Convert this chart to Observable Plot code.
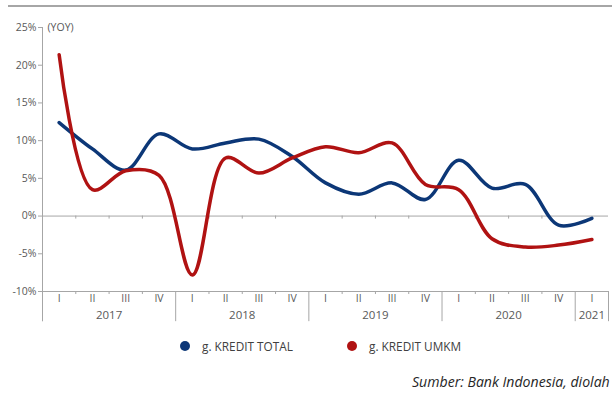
<!DOCTYPE html>
<html>
<head>
<meta charset="utf-8">
<script src="https://cdn.jsdelivr.net/npm/d3@7"></script>
<script src="https://cdn.jsdelivr.net/npm/@observablehq/plot@0.6"></script>
<style>
  html, body { margin: 0; padding: 0; background: #fff; }
  body { width: 612px; height: 394px; position: relative; overflow: hidden; font-family: "Open Sans", sans-serif; }
  #rule { position: absolute; left: 8px; top: 5px; width: 604px; height: 2px; background: #a6a6a6; }
  #chart { position: absolute; left: 0; top: 0; }
  #legend { position: absolute; top: 337px; left: 0; width: 612px; height: 18px; font-size: 11.8px; color: #404040; }
  .item { position: absolute; top: 0; display: flex; align-items: center; height: 18px; }
  .dot { width: 10px; height: 10px; border-radius: 50%; margin-right: 12px; }
  #caption { position: absolute; top: 372px; left: 412px; font-size: 14.1px; font-style: italic; color: #262626; white-space: nowrap; }
</style>
</head>
<body>
<div id="rule"></div>
<div id="chart"></div>
<div id="legend">
  <div class="item" style="left:180px"><span class="dot" style="background:#0c3777"></span><span>g. KREDIT TOTAL</span></div>
  <div class="item" style="left:347px"><span class="dot" style="background:#b01212"></span><span>g. KREDIT UMKM</span></div>
</div>
<div id="caption">Sumber: Bank Indonesia, diolah</div>
<script>
const quarters = ["I","II","III","IV","I","II","III","IV","I","II","III","IV","I","II","III","IV","I"];
const years = [2017,2017,2017,2017,2018,2018,2018,2018,2019,2019,2019,2019,2020,2020,2020,2020,2021];
const kreditTotal = [12.4, 8.9, 6.1, 10.9, 8.9, 9.7, 10.2, 7.9, 4.4, 2.9, 4.4, 2.2, 7.4, 3.7, 4.2, -1.2, -0.3];
const kreditUMKM = [21.4, 3.5, 6.0, 5.4, -7.8, 7.7, 5.7, 7.7, 9.2, 8.4, 9.7, 4.2, 3.5, -3.0, -4.1, -3.85, -3.1];
const yTicks = [-10, -5, 0, 5, 10, 15, 20, 25];

const COL_TOTAL = "#0c3777";
const COL_UMKM = "#b01212";
const GRID = "#a6a6a6";
const TXT = "#595959";

const n = quarters.length;
const rows = kreditTotal.map((v, i) => ({i, v}));
const rowsU = kreditUMKM.map((v, i) => ({i, v}));
const qLabels = quarters.map((q, i) => ({i, q}));
const yearGroups = d3.groups(years.map((y, i) => ({y, i})), d => d.y)
  .map(([y, arr]) => ({y, start: arr[0].i - 0.5, end: arr[arr.length - 1].i + 0.5, mid: (arr[0].i + arr[arr.length - 1].i) / 2}));
const yearBounds = [...new Set(yearGroups.flatMap(g => [g.start, g.end]))];
const qBounds = d3.range(n + 1).map(k => k - 0.5).filter(b => !yearBounds.includes(b));

const chart = Plot.plot({
  width: 612,
  height: 325,
  marginLeft: 42,
  marginRight: 4,
  marginTop: 27,
  marginBottom: 34,
  style: {fontFamily: "'Open Sans', sans-serif", fontSize: "10.5px", color: TXT, background: "transparent"},
  x: {type: "linear", domain: [-0.5, n - 0.5], axis: null},
  y: {type: "linear", domain: [-10, 25], axis: null},
  marks: [
    Plot.ruleY([0, -10], {x1: -0.5, x2: n - 0.5, stroke: GRID, strokeWidth: 1}),
    Plot.ruleY(yTicks, {y: d => d, x1: -0.62, x2: -0.5, stroke: GRID}),
    Plot.ruleX(yearBounds, {x: d => d, y1: 25, y2: -14, stroke: GRID, filter: d => d === -0.5}),
    Plot.ruleX(yearBounds, {x: d => d, y1: -10, y2: -14, stroke: GRID}),
    Plot.ruleX(qBounds, {x: d => d, y1: 0, y2: -0.4, stroke: GRID}),
    Plot.ruleX(qBounds, {x: d => d, y1: -10, y2: -10.4, stroke: GRID}),
    Plot.text(yTicks, {x: -0.5, y: d => d, text: d => d + "%", textAnchor: "end", dx: -6, fill: TXT}),
    Plot.text(["(YOY)"], {x: -0.5, y: 25, text: d => d, textAnchor: "start", dx: 5, fill: TXT}),
    Plot.text(qLabels, {x: "i", y: -10, text: "q", dy: 7, fill: TXT}),
    Plot.text(yearGroups, {x: "mid", y: -10, text: d => String(d.y), dy: 24, fill: TXT, fontSize: 11.5}),
    Plot.line(rows, {x: "i", y: "v", stroke: COL_TOTAL, strokeWidth: 3.5, curve: "catmull-rom"}),
    Plot.line(rowsU, {x: "i", y: "v", stroke: COL_UMKM, strokeWidth: 3.5, curve: "catmull-rom"})
  ]
});
document.getElementById("chart").appendChild(chart);
</script>
</body>
</html>
